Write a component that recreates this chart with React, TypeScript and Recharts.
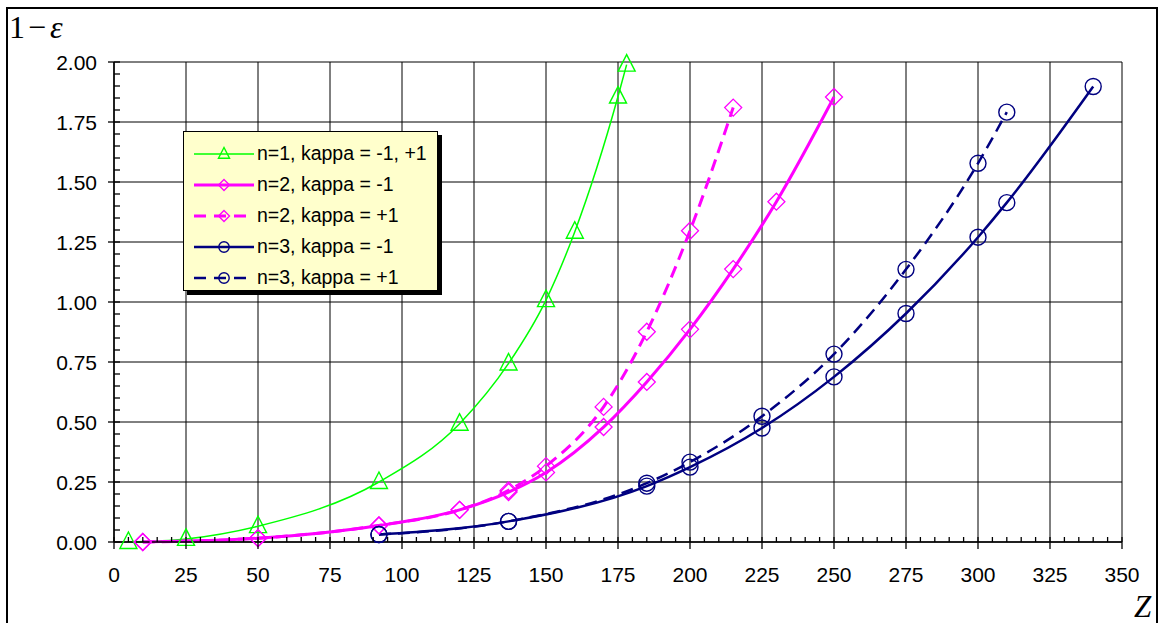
import React from 'react';
import { LineChart, Line, XAxis, YAxis, CartesianGrid, Legend } from 'recharts';

// ---------- data ----------
const zN1 = [5, 25, 50, 92, 120, 137, 150, 160, 175, 178];
const vN1 = [0, 0.013, 0.066, 0.25, 0.493, 0.744, 1.008, 1.293, 1.856, 1.989];

const zN2m = [10, 50, 92, 120, 137, 150, 170, 185, 200, 215, 230, 250];
const vN2m = [0, 0.016, 0.069, 0.134, 0.208, 0.29, 0.479, 0.667, 0.886, 1.137, 1.418, 1.854];

const zN2p = [10, 50, 92, 120, 137, 150, 170, 185, 200, 215];
const vN2p = [0, 0.016, 0.069, 0.134, 0.215, 0.316, 0.563, 0.876, 1.297, 1.81];

const zN3m = [92, 137, 185, 200, 225, 250, 275, 300, 310, 340];
const vN3m = [0.031, 0.086, 0.233, 0.312, 0.475, 0.688, 0.952, 1.27, 1.414, 1.898];

const zN3p = [92, 137, 185, 200, 225, 250, 275, 300, 310];
const vN3p = [0.031, 0.086, 0.245, 0.333, 0.524, 0.783, 1.136, 1.578, 1.791];

const xMajorTicks = [0, 25, 50, 75, 100, 125, 150, 175, 200, 225, 250, 275, 300, 325, 350];
const yMajorTicks = [0, 0.25, 0.5, 0.75, 1.0, 1.25, 1.5, 1.75, 2.0];
const X_MINOR_STEP = 5;
const Y_MINOR_STEP = 0.05;

const legendLabels = [
  'n=1, kappa = -1, +1',
  'n=2, kappa = -1',
  'n=2, kappa = +1',
  'n=3, kappa = -1',
  'n=3, kappa = +1',
];

const xAllTicks = Array.from({ length: Math.round(350 / X_MINOR_STEP) + 1 }, (_, i) => i * X_MINOR_STEP);
const yAllTicks = Array.from({ length: Math.round(2 / Y_MINOR_STEP) + 1 }, (_, i) => Math.round(i * Y_MINOR_STEP * 100) / 100);

const toData = (z: number[], v: number[]) => z.map((zz, i) => ({ z: zz, v: v[i] }));

const GREEN = '#00FF00';
const MAGENTA = '#FF00FF';
const NAVY = '#000080';

// ---------- markers ----------
const Triangle = ({ cx, cy, s = 1, color }: any) => (
  <polygon
    points={`${cx},${cy - 10 * s} ${cx - 8.5 * s},${cy + 6.5 * s} ${cx + 8.5 * s},${cy + 6.5 * s}`}
    fill="none"
    stroke={color}
    strokeWidth={1.4}
  />
);
const Diamond = ({ cx, cy, s = 1, color }: any) => (
  <polygon
    points={`${cx},${cy - 8.5 * s} ${cx + 8.5 * s},${cy} ${cx},${cy + 8.5 * s} ${cx - 8.5 * s},${cy}`}
    fill="none"
    stroke={color}
    strokeWidth={1.3}
  />
);
const Circle = ({ cx, cy, s = 1, color }: any) => (
  <circle cx={cx} cy={cy} r={8 * s} fill="none" stroke={color} strokeWidth={1.4} />
);

const series = [
  { key: 'n1', data: toData(zN1, vN1), color: GREEN, width: 1.5, dash: undefined, Marker: Triangle },
  { key: 'n2m', data: toData(zN2m, vN2m), color: MAGENTA, width: 3, dash: undefined, Marker: Diamond },
  { key: 'n2p', data: toData(zN2p, vN2p), color: MAGENTA, width: 3, dash: '12 7', Marker: Diamond },
  { key: 'n3m', data: toData(zN3m, vN3m), color: NAVY, width: 2.5, dash: undefined, Marker: Circle },
  { key: 'n3p', data: toData(zN3p, vN3p), color: NAVY, width: 2.5, dash: '12 7', Marker: Circle },
];

const FONT = '"Liberation Sans", Arial, sans-serif';
const SERIF = '"Liberation Serif", "Times New Roman", serif';

// ---------- ticks ----------
const isMajorX = (v: number) => xMajorTicks.some((t) => Math.abs(t - v) < 1e-6);
const isMajorY = (v: number) => yMajorTicks.some((t) => Math.abs(t - v) < 1e-6);

const XTick = (props: any) => {
  const { x, y, payload } = props;
  const v = payload.value;
  const major = isMajorX(v);
  return (
    <g>
      {major ? (
        <line x1={x} x2={x} y1={y - 5} y2={y + 7} stroke="#000" strokeWidth={1.3} />
      ) : (
        <line x1={x} x2={x} y1={y} y2={y - 5} stroke="#000" strokeWidth={1.3} />
      )}
      {major && (
        <text x={x} y={y + 40} textAnchor="middle" fontFamily={FONT} fontSize={21} fill="#000">
          {v}
        </text>
      )}
    </g>
  );
};

const YTick = (props: any) => {
  const { x, y, payload } = props;
  const v = payload.value;
  const major = isMajorY(v);
  return (
    <g>
      {major ? (
        <line x1={x - 6} x2={x + 6} y1={y} y2={y} stroke="#000" strokeWidth={1.3} />
      ) : (
        <line x1={x} x2={x + 6} y1={y} y2={y} stroke="#000" strokeWidth={1.3} />
      )}
      {major && (
        <text x={x - 17} y={y + 7.5} textAnchor="end" fontFamily={FONT} fontSize={21} fill="#000">
          {v.toFixed(2)}
        </text>
      )}
    </g>
  );
};

// ---------- legend ----------
const LegendBox = () => (
  <div
    style={{
      width: 255,
      height: 160,
      background: '#FFFFCC',
      border: '1px solid #000',
      boxShadow: '4px 4px 0 #000',
      boxSizing: 'border-box',
      paddingTop: 6,
    }}
  >
    {series.map((s, i) => (
      <div key={s.key} style={{ display: 'flex', alignItems: 'center', height: 31, marginLeft: 8 }}>
        <svg width={62} height={20} style={{ display: 'block' }}>
          <line
            x1={2}
            x2={62}
            y1={10}
            y2={10}
            stroke={s.color}
            strokeWidth={s.width}
            strokeDasharray={s.dash ? '12 8' : undefined}
          />
          <s.Marker cx={32} cy={10} s={0.65} color={s.color} />
        </svg>
        <span style={{ fontFamily: FONT, fontSize: 19.5, color: '#000', marginLeft: 3, whiteSpace: 'nowrap' }}>
          {legendLabels[i]}
        </span>
      </div>
    ))}
  </div>
);

export default function App() {
  return (
    <div style={{ position: 'absolute', left: 0, top: 0, width: 1166, height: 623, overflow: 'hidden', background: '#fff' }}>
      <div
        style={{
          position: 'absolute',
          left: 6,
          top: 7,
          width: 1152,
          height: 640,
          border: '2px solid #000',
          boxSizing: 'border-box',
        }}
      />
      <LineChart width={1166} height={623} margin={{ top: 62, right: 44, bottom: 51, left: 0 }}>
        <CartesianGrid
          stroke="#000"
          strokeWidth={1}
          verticalValues={xMajorTicks}
          horizontalValues={yMajorTicks}
        />
        <XAxis
          dataKey="z"
          type="number"
          domain={[0, 350]}
          ticks={xAllTicks}
          interval={0}
          tickSize={0}
          tickMargin={0}
          tickLine={false}
          axisLine={{ stroke: '#000', strokeWidth: 1.5 }}
          tick={<XTick />}
          height={30}
          label={{
            content: () => (
              <text x={1134} y={617} fontFamily={SERIF} fontStyle="italic" fontSize={31} fill="#000">
                Z
              </text>
            ),
          }}
        />
        <YAxis
          type="number"
          domain={[0, 2]}
          ticks={yAllTicks}
          interval={0}
          tickSize={0}
          tickMargin={0}
          tickLine={false}
          axisLine={{ stroke: '#000', strokeWidth: 1.5 }}
          tick={<YTick />}
          width={114}
          label={{
            content: () => (
              <text x={9} y={38} fontFamily={SERIF} fontSize={32} fill="#000">
                1<tspan dx={3}>−</tspan>
                <tspan dx={4} fontStyle="italic">ε</tspan>
              </text>
            ),
          }}
        />
        {series.map((s) => (
          <Line
            key={s.key}
            data={s.data}
            dataKey="v"
            type="monotone"
            stroke={s.color}
            strokeWidth={s.width}
            strokeDasharray={s.dash}
            isAnimationActive={false}
            activeDot={false}
            dot={(p: any) => <s.Marker key={`${s.key}-${p.index}`} cx={p.cx} cy={p.cy} color={s.color} />}
          />
        ))}
        <Legend
          layout="vertical"
          align="center"
          verticalAlign="middle"
          wrapperStyle={{ position: 'absolute', left: 183, top: 131, width: 260, height: 170 }}
          content={() => <LegendBox />}
        />
      </LineChart>
    </div>
  );
}
